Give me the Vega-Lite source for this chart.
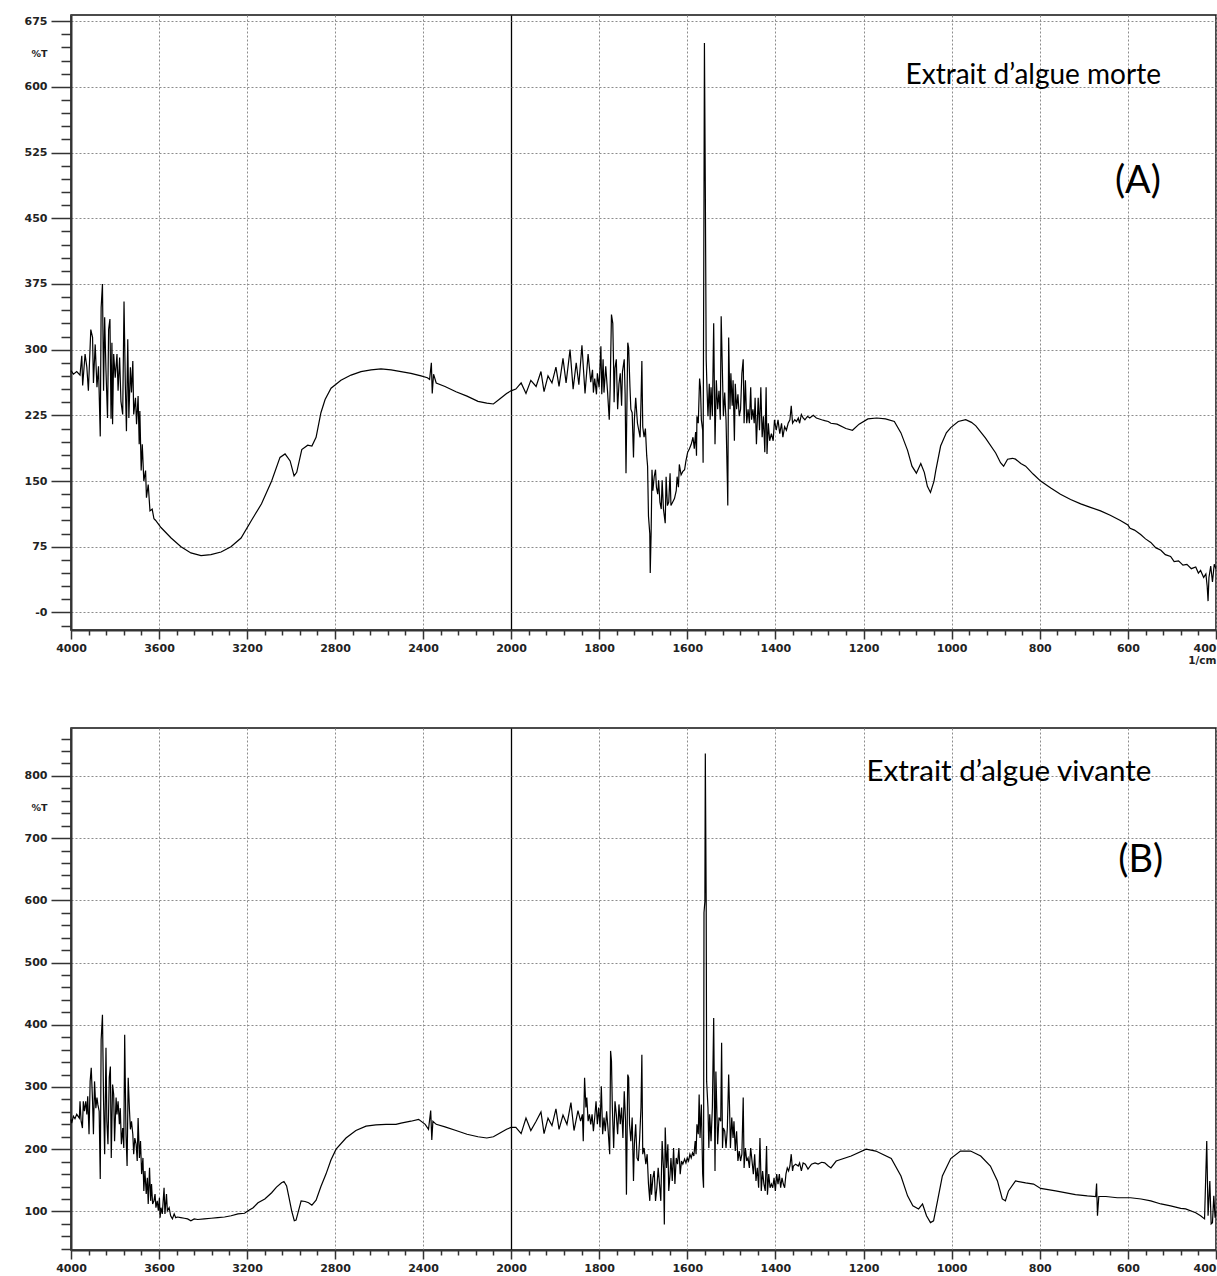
{
"$schema": "https://vega.github.io/schema/vega-lite/v6.json",
"padding": {"left": 0, "top": 14, "right": 2, "bottom": 0},
"background": "white",
"spacing": 60,
"config": {
  "view": {"stroke": "#111", "strokeWidth": 1.5},
  "axis": {"labelFont": "DejaVu Sans", "labelFontSize": 11, "labelFontWeight": "bold", "labelColor": "#222", "domainColor": "#333", "domainWidth": 2, "tickColor": "#333", "tickWidth": 1.5, "labelOverlap": false, "labelBound": false, "labelFlush": false, "titleFont": "DejaVu Sans", "titleColor": "#222", "tickCount": 1000}
},
"datasets": {
"A": [{"wn":4000,"t":276},{"wn":3989,"t":272},{"wn":3974,"t":275},{"wn":3959,"t":271},{"wn":3951,"t":293},{"wn":3947,"t":259},{"wn":3936,"t":295},{"wn":3928,"t":280},{"wn":3921,"t":253},{"wn":3910,"t":323},{"wn":3902,"t":314},{"wn":3898,"t":262},{"wn":3890,"t":306},{"wn":3882,"t":257},{"wn":3875,"t":281},{"wn":3867,"t":201},{"wn":3863,"t":348},{"wn":3857,"t":375},{"wn":3852,"t":253},{"wn":3847,"t":337},{"wn":3841,"t":276},{"wn":3834,"t":222},{"wn":3829,"t":323},{"wn":3823,"t":335},{"wn":3818,"t":221},{"wn":3814,"t":308},{"wn":3811,"t":215},{"wn":3806,"t":295},{"wn":3799,"t":268},{"wn":3791,"t":295},{"wn":3786,"t":253},{"wn":3779,"t":291},{"wn":3773,"t":241},{"wn":3765,"t":226},{"wn":3759,"t":355},{"wn":3753,"t":259},{"wn":3748,"t":207},{"wn":3742,"t":312},{"wn":3737,"t":222},{"wn":3730,"t":280},{"wn":3725,"t":251},{"wn":3719,"t":287},{"wn":3715,"t":226},{"wn":3707,"t":245},{"wn":3702,"t":215},{"wn":3695,"t":247},{"wn":3690,"t":192},{"wn":3687,"t":230},{"wn":3681,"t":162},{"wn":3676,"t":192},{"wn":3669,"t":150},{"wn":3661,"t":162},{"wn":3657,"t":131},{"wn":3649,"t":146},{"wn":3641,"t":116},{"wn":3631,"t":118},{"wn":3623,"t":107},{"wn":3615,"t":105},{"wn":3600,"t":100},{"wn":3591,"t":97},{"wn":3545,"t":85},{"wn":3500,"t":75},{"wn":3455,"t":68},{"wn":3409,"t":65},{"wn":3364,"t":66},{"wn":3318,"t":69},{"wn":3273,"t":75},{"wn":3227,"t":85},{"wn":3180,"t":105},{"wn":3134,"t":124},{"wn":3088,"t":150},{"wn":3050,"t":177},{"wn":3027,"t":181},{"wn":3004,"t":173},{"wn":2986,"t":156},{"wn":2974,"t":160},{"wn":2951,"t":186},{"wn":2924,"t":191},{"wn":2905,"t":190},{"wn":2886,"t":200},{"wn":2864,"t":228},{"wn":2845,"t":243},{"wn":2818,"t":256},{"wn":2773,"t":265},{"wn":2727,"t":271},{"wn":2682,"t":275},{"wn":2636,"t":277},{"wn":2591,"t":278},{"wn":2545,"t":277},{"wn":2500,"t":275},{"wn":2455,"t":273},{"wn":2409,"t":270},{"wn":2380,"t":268},{"wn":2370,"t":266},{"wn":2362,"t":285},{"wn":2358,"t":250},{"wn":2352,"t":272},{"wn":2340,"t":262},{"wn":2300,"t":258},{"wn":2250,"t":252},{"wn":2200,"t":247},{"wn":2150,"t":241},{"wn":2110,"t":239},{"wn":2080,"t":238},{"wn":2050,"t":244},{"wn":2020,"t":250},{"wn":2000,"t":253},{"wn":1989,"t":255},{"wn":1977,"t":262},{"wn":1966,"t":250},{"wn":1955,"t":265},{"wn":1943,"t":258},{"wn":1932,"t":275},{"wn":1925,"t":252},{"wn":1916,"t":270},{"wn":1907,"t":262},{"wn":1898,"t":280},{"wn":1891,"t":258},{"wn":1882,"t":290},{"wn":1875,"t":262},{"wn":1866,"t":300},{"wn":1859,"t":255},{"wn":1852,"t":285},{"wn":1846,"t":260},{"wn":1839,"t":305},{"wn":1832,"t":250},{"wn":1825,"t":295},{"wn":1819,"t":263},{"wn":1815,"t":277},{"wn":1813,"t":251},{"wn":1810,"t":267},{"wn":1806,"t":249},{"wn":1804,"t":273},{"wn":1800,"t":257},{"wn":1796,"t":304},{"wn":1794,"t":249},{"wn":1791,"t":289},{"wn":1789,"t":251},{"wn":1785,"t":281},{"wn":1781,"t":253},{"wn":1777,"t":220},{"wn":1775,"t":255},{"wn":1772,"t":340},{"wn":1769,"t":330},{"wn":1767,"t":277},{"wn":1766,"t":240},{"wn":1764,"t":279},{"wn":1761,"t":289},{"wn":1758,"t":232},{"wn":1755,"t":261},{"wn":1752,"t":273},{"wn":1749,"t":236},{"wn":1747,"t":275},{"wn":1743,"t":289},{"wn":1741,"t":249},{"wn":1739,"t":159},{"wn":1735,"t":308},{"wn":1733,"t":302},{"wn":1730,"t":257},{"wn":1728,"t":232},{"wn":1725,"t":228},{"wn":1722,"t":177},{"wn":1720,"t":220},{"wn":1717,"t":245},{"wn":1713,"t":216},{"wn":1710,"t":208},{"wn":1707,"t":200},{"wn":1705,"t":240},{"wn":1703,"t":287},{"wn":1701,"t":212},{"wn":1698,"t":200},{"wn":1695,"t":210},{"wn":1692,"t":179},{"wn":1690,"t":167},{"wn":1688,"t":110},{"wn":1685,"t":90},{"wn":1684,"t":45},{"wn":1682,"t":90},{"wn":1680,"t":163},{"wn":1678,"t":139},{"wn":1675,"t":155},{"wn":1672,"t":163},{"wn":1670,"t":143},{"wn":1667,"t":135},{"wn":1665,"t":151},{"wn":1662,"t":126},{"wn":1659,"t":118},{"wn":1657,"t":151},{"wn":1654,"t":118},{"wn":1650,"t":102},{"wn":1648,"t":155},{"wn":1645,"t":122},{"wn":1642,"t":126},{"wn":1639,"t":159},{"wn":1637,"t":122},{"wn":1633,"t":126},{"wn":1629,"t":130},{"wn":1625,"t":139},{"wn":1623,"t":155},{"wn":1620,"t":143},{"wn":1618,"t":169},{"wn":1614,"t":157},{"wn":1610,"t":161},{"wn":1606,"t":163},{"wn":1603,"t":173},{"wn":1599,"t":183},{"wn":1595,"t":187},{"wn":1591,"t":192},{"wn":1587,"t":200},{"wn":1584,"t":187},{"wn":1581,"t":206},{"wn":1579,"t":179},{"wn":1578,"t":224},{"wn":1575,"t":216},{"wn":1572,"t":267},{"wn":1570,"t":257},{"wn":1568,"t":220},{"wn":1565,"t":208},{"wn":1564,"t":171},{"wn":1562,"t":473},{"wn":1561,"t":650},{"wn":1559,"t":485},{"wn":1557,"t":289},{"wn":1555,"t":253},{"wn":1553,"t":224},{"wn":1550,"t":261},{"wn":1548,"t":220},{"wn":1546,"t":257},{"wn":1543,"t":224},{"wn":1540,"t":330},{"wn":1537,"t":192},{"wn":1534,"t":265},{"wn":1531,"t":232},{"wn":1528,"t":253},{"wn":1525,"t":220},{"wn":1523,"t":338},{"wn":1521,"t":293},{"wn":1518,"t":224},{"wn":1515,"t":251},{"wn":1512,"t":220},{"wn":1509,"t":151},{"wn":1508,"t":122},{"wn":1506,"t":314},{"wn":1503,"t":232},{"wn":1501,"t":273},{"wn":1498,"t":236},{"wn":1496,"t":265},{"wn":1493,"t":196},{"wn":1491,"t":261},{"wn":1488,"t":232},{"wn":1485,"t":249},{"wn":1482,"t":224},{"wn":1479,"t":232},{"wn":1476,"t":273},{"wn":1473,"t":289},{"wn":1471,"t":216},{"wn":1468,"t":265},{"wn":1465,"t":216},{"wn":1462,"t":232},{"wn":1459,"t":216},{"wn":1456,"t":257},{"wn":1454,"t":220},{"wn":1451,"t":232},{"wn":1448,"t":216},{"wn":1446,"t":245},{"wn":1443,"t":192},{"wn":1439,"t":245},{"wn":1436,"t":208},{"wn":1433,"t":257},{"wn":1430,"t":200},{"wn":1427,"t":224},{"wn":1424,"t":183},{"wn":1421,"t":257},{"wn":1419,"t":181},{"wn":1416,"t":216},{"wn":1413,"t":196},{"wn":1409,"t":204},{"wn":1405,"t":196},{"wn":1402,"t":220},{"wn":1398,"t":208},{"wn":1394,"t":220},{"wn":1390,"t":204},{"wn":1386,"t":216},{"wn":1383,"t":200},{"wn":1379,"t":212},{"wn":1375,"t":208},{"wn":1371,"t":216},{"wn":1367,"t":220},{"wn":1364,"t":236},{"wn":1361,"t":216},{"wn":1356,"t":220},{"wn":1352,"t":218},{"wn":1348,"t":222},{"wn":1345,"t":216},{"wn":1341,"t":226},{"wn":1337,"t":222},{"wn":1333,"t":220},{"wn":1327,"t":224},{"wn":1322,"t":222},{"wn":1314,"t":225},{"wn":1307,"t":222},{"wn":1295,"t":220},{"wn":1288,"t":219},{"wn":1280,"t":218},{"wn":1274,"t":216},{"wn":1260,"t":215},{"wn":1240,"t":210},{"wn":1225,"t":208},{"wn":1210,"t":215},{"wn":1190,"t":221},{"wn":1170,"t":222},{"wn":1150,"t":221},{"wn":1130,"t":218},{"wn":1115,"t":205},{"wn":1100,"t":185},{"wn":1090,"t":167},{"wn":1080,"t":159},{"wn":1070,"t":170},{"wn":1062,"t":160},{"wn":1055,"t":144},{"wn":1048,"t":137},{"wn":1040,"t":150},{"wn":1036,"t":162},{"wn":1025,"t":190},{"wn":1012,"t":205},{"wn":1002,"t":211},{"wn":985,"t":218},{"wn":968,"t":220},{"wn":955,"t":217},{"wn":945,"t":213},{"wn":923,"t":199},{"wn":900,"t":182},{"wn":889,"t":171},{"wn":882,"t":167},{"wn":873,"t":175},{"wn":862,"t":176},{"wn":855,"t":175},{"wn":843,"t":170},{"wn":832,"t":167},{"wn":815,"t":158},{"wn":798,"t":150},{"wn":775,"t":142},{"wn":753,"t":135},{"wn":730,"t":129},{"wn":707,"t":124},{"wn":685,"t":120},{"wn":662,"t":116},{"wn":640,"t":111},{"wn":617,"t":105},{"wn":600,"t":100},{"wn":595,"t":96},{"wn":585,"t":94},{"wn":571,"t":89},{"wn":560,"t":84},{"wn":548,"t":80},{"wn":537,"t":74},{"wn":525,"t":71},{"wn":515,"t":66},{"wn":503,"t":64},{"wn":495,"t":58},{"wn":485,"t":59},{"wn":475,"t":54},{"wn":466,"t":55},{"wn":456,"t":50},{"wn":446,"t":52},{"wn":440,"t":45},{"wn":435,"t":48},{"wn":428,"t":40},{"wn":423,"t":44},{"wn":420,"t":30},{"wn":418,"t":13},{"wn":416,"t":40},{"wn":412,"t":53},{"wn":408,"t":35},{"wn":404,"t":55},{"wn":400,"t":50}],
"B": [{"wn":4000,"t":248},{"wn":3997,"t":242},{"wn":3989,"t":253},{"wn":3982,"t":249},{"wn":3974,"t":256},{"wn":3962,"t":250},{"wn":3959,"t":277},{"wn":3954,"t":245},{"wn":3948,"t":234},{"wn":3944,"t":277},{"wn":3939,"t":261},{"wn":3933,"t":277},{"wn":3928,"t":256},{"wn":3924,"t":285},{"wn":3918,"t":224},{"wn":3913,"t":309},{"wn":3908,"t":331},{"wn":3902,"t":277},{"wn":3898,"t":224},{"wn":3893,"t":309},{"wn":3887,"t":266},{"wn":3882,"t":283},{"wn":3878,"t":272},{"wn":3872,"t":261},{"wn":3867,"t":152},{"wn":3863,"t":376},{"wn":3857,"t":416},{"wn":3852,"t":277},{"wn":3847,"t":192},{"wn":3841,"t":363},{"wn":3837,"t":245},{"wn":3832,"t":208},{"wn":3826,"t":315},{"wn":3821,"t":333},{"wn":3817,"t":186},{"wn":3811,"t":304},{"wn":3806,"t":288},{"wn":3802,"t":213},{"wn":3795,"t":283},{"wn":3791,"t":256},{"wn":3786,"t":277},{"wn":3780,"t":240},{"wn":3776,"t":266},{"wn":3771,"t":208},{"wn":3765,"t":234},{"wn":3760,"t":202},{"wn":3756,"t":384},{"wn":3750,"t":224},{"wn":3745,"t":173},{"wn":3740,"t":315},{"wn":3734,"t":261},{"wn":3730,"t":232},{"wn":3725,"t":245},{"wn":3719,"t":224},{"wn":3715,"t":192},{"wn":3710,"t":218},{"wn":3704,"t":208},{"wn":3699,"t":181},{"wn":3695,"t":250},{"wn":3689,"t":186},{"wn":3684,"t":213},{"wn":3679,"t":160},{"wn":3673,"t":186},{"wn":3669,"t":133},{"wn":3664,"t":165},{"wn":3658,"t":128},{"wn":3653,"t":154},{"wn":3649,"t":112},{"wn":3643,"t":170},{"wn":3638,"t":117},{"wn":3634,"t":144},{"wn":3629,"t":112},{"wn":3623,"t":117},{"wn":3618,"t":128},{"wn":3614,"t":106},{"wn":3608,"t":117},{"wn":3603,"t":101},{"wn":3598,"t":122},{"wn":3595,"t":90},{"wn":3591,"t":106},{"wn":3585,"t":96},{"wn":3577,"t":138},{"wn":3573,"t":96},{"wn":3566,"t":128},{"wn":3562,"t":101},{"wn":3554,"t":106},{"wn":3547,"t":93},{"wn":3539,"t":88},{"wn":3531,"t":96},{"wn":3524,"t":90},{"wn":3516,"t":91},{"wn":3501,"t":90},{"wn":3485,"t":89},{"wn":3470,"t":88},{"wn":3455,"t":85},{"wn":3440,"t":88},{"wn":3424,"t":87},{"wn":3394,"t":88},{"wn":3363,"t":89},{"wn":3333,"t":90},{"wn":3302,"t":91},{"wn":3272,"t":93},{"wn":3241,"t":96},{"wn":3211,"t":97},{"wn":3195,"t":101},{"wn":3172,"t":106},{"wn":3150,"t":114},{"wn":3119,"t":120},{"wn":3088,"t":130},{"wn":3066,"t":139},{"wn":3043,"t":146},{"wn":3032,"t":148},{"wn":3020,"t":141},{"wn":3009,"t":122},{"wn":2997,"t":101},{"wn":2985,"t":85},{"wn":2977,"t":86},{"wn":2966,"t":101},{"wn":2954,"t":117},{"wn":2936,"t":116},{"wn":2920,"t":114},{"wn":2905,"t":110},{"wn":2886,"t":118},{"wn":2864,"t":140},{"wn":2841,"t":160},{"wn":2818,"t":183},{"wn":2795,"t":200},{"wn":2750,"t":218},{"wn":2705,"t":230},{"wn":2659,"t":237},{"wn":2614,"t":239},{"wn":2568,"t":240},{"wn":2523,"t":240},{"wn":2500,"t":242},{"wn":2455,"t":245},{"wn":2420,"t":248},{"wn":2390,"t":240},{"wn":2375,"t":232},{"wn":2365,"t":262},{"wn":2360,"t":215},{"wn":2355,"t":245},{"wn":2340,"t":240},{"wn":2300,"t":236},{"wn":2250,"t":230},{"wn":2200,"t":224},{"wn":2150,"t":220},{"wn":2110,"t":218},{"wn":2080,"t":220},{"wn":2050,"t":226},{"wn":2020,"t":232},{"wn":2000,"t":235},{"wn":1989,"t":235},{"wn":1977,"t":225},{"wn":1966,"t":250},{"wn":1955,"t":230},{"wn":1943,"t":245},{"wn":1932,"t":260},{"wn":1925,"t":225},{"wn":1916,"t":250},{"wn":1907,"t":238},{"wn":1898,"t":265},{"wn":1891,"t":232},{"wn":1882,"t":255},{"wn":1873,"t":240},{"wn":1864,"t":275},{"wn":1857,"t":230},{"wn":1848,"t":262},{"wn":1842,"t":245},{"wn":1838,"t":256},{"wn":1836,"t":213},{"wn":1833,"t":315},{"wn":1830,"t":267},{"wn":1828,"t":283},{"wn":1825,"t":245},{"wn":1822,"t":256},{"wn":1819,"t":240},{"wn":1816,"t":256},{"wn":1813,"t":229},{"wn":1810,"t":251},{"wn":1807,"t":277},{"wn":1804,"t":240},{"wn":1801,"t":267},{"wn":1798,"t":235},{"wn":1795,"t":301},{"wn":1792,"t":224},{"wn":1789,"t":251},{"wn":1786,"t":229},{"wn":1783,"t":261},{"wn":1780,"t":235},{"wn":1776,"t":192},{"wn":1774,"t":358},{"wn":1772,"t":342},{"wn":1770,"t":267},{"wn":1767,"t":202},{"wn":1764,"t":277},{"wn":1761,"t":256},{"wn":1758,"t":224},{"wn":1755,"t":272},{"wn":1752,"t":240},{"wn":1749,"t":267},{"wn":1746,"t":218},{"wn":1743,"t":293},{"wn":1740,"t":245},{"wn":1738,"t":127},{"wn":1735,"t":320},{"wn":1733,"t":315},{"wn":1731,"t":240},{"wn":1728,"t":213},{"wn":1725,"t":251},{"wn":1722,"t":149},{"wn":1720,"t":208},{"wn":1717,"t":240},{"wn":1714,"t":186},{"wn":1711,"t":181},{"wn":1708,"t":218},{"wn":1705,"t":267},{"wn":1703,"t":352},{"wn":1701,"t":192},{"wn":1698,"t":202},{"wn":1694,"t":176},{"wn":1691,"t":192},{"wn":1688,"t":144},{"wn":1685,"t":117},{"wn":1683,"t":160},{"wn":1681,"t":127},{"wn":1678,"t":154},{"wn":1675,"t":165},{"wn":1672,"t":117},{"wn":1669,"t":138},{"wn":1666,"t":170},{"wn":1663,"t":144},{"wn":1660,"t":117},{"wn":1657,"t":213},{"wn":1654,"t":170},{"wn":1652,"t":79},{"wn":1650,"t":235},{"wn":1647,"t":170},{"wn":1644,"t":208},{"wn":1642,"t":133},{"wn":1639,"t":160},{"wn":1637,"t":186},{"wn":1634,"t":149},{"wn":1631,"t":202},{"wn":1628,"t":144},{"wn":1625,"t":186},{"wn":1622,"t":176},{"wn":1619,"t":202},{"wn":1616,"t":160},{"wn":1613,"t":181},{"wn":1610,"t":176},{"wn":1606,"t":184},{"wn":1603,"t":178},{"wn":1600,"t":186},{"wn":1597,"t":181},{"wn":1594,"t":192},{"wn":1591,"t":186},{"wn":1588,"t":194},{"wn":1585,"t":189},{"wn":1582,"t":213},{"wn":1580,"t":192},{"wn":1578,"t":240},{"wn":1575,"t":224},{"wn":1573,"t":288},{"wn":1571,"t":218},{"wn":1568,"t":272},{"wn":1565,"t":160},{"wn":1563,"t":138},{"wn":1562,"t":580},{"wn":1560,"t":598},{"wn":1559,"t":836},{"wn":1557,"t":593},{"wn":1556,"t":309},{"wn":1553,"t":267},{"wn":1551,"t":202},{"wn":1549,"t":256},{"wn":1546,"t":213},{"wn":1543,"t":267},{"wn":1540,"t":411},{"wn":1537,"t":165},{"wn":1535,"t":325},{"wn":1533,"t":267},{"wn":1531,"t":208},{"wn":1528,"t":251},{"wn":1524,"t":245},{"wn":1522,"t":371},{"wn":1520,"t":202},{"wn":1518,"t":234},{"wn":1515,"t":229},{"wn":1512,"t":202},{"wn":1509,"t":234},{"wn":1506,"t":320},{"wn":1504,"t":267},{"wn":1502,"t":202},{"wn":1499,"t":251},{"wn":1496,"t":218},{"wn":1494,"t":245},{"wn":1491,"t":197},{"wn":1488,"t":229},{"wn":1485,"t":181},{"wn":1482,"t":197},{"wn":1479,"t":181},{"wn":1476,"t":192},{"wn":1473,"t":283},{"wn":1471,"t":170},{"wn":1468,"t":202},{"wn":1465,"t":181},{"wn":1462,"t":186},{"wn":1459,"t":170},{"wn":1456,"t":202},{"wn":1453,"t":181},{"wn":1450,"t":160},{"wn":1447,"t":192},{"wn":1444,"t":149},{"wn":1441,"t":170},{"wn":1438,"t":138},{"wn":1435,"t":218},{"wn":1432,"t":133},{"wn":1429,"t":165},{"wn":1426,"t":144},{"wn":1423,"t":133},{"wn":1420,"t":205},{"wn":1418,"t":127},{"wn":1415,"t":160},{"wn":1412,"t":138},{"wn":1409,"t":144},{"wn":1406,"t":138},{"wn":1403,"t":154},{"wn":1400,"t":133},{"wn":1397,"t":160},{"wn":1394,"t":144},{"wn":1391,"t":160},{"wn":1388,"t":138},{"wn":1385,"t":154},{"wn":1382,"t":144},{"wn":1379,"t":138},{"wn":1376,"t":160},{"wn":1373,"t":170},{"wn":1370,"t":165},{"wn":1367,"t":173},{"wn":1364,"t":192},{"wn":1361,"t":165},{"wn":1359,"t":173},{"wn":1354,"t":176},{"wn":1348,"t":173},{"wn":1345,"t":178},{"wn":1341,"t":165},{"wn":1337,"t":178},{"wn":1332,"t":176},{"wn":1326,"t":168},{"wn":1318,"t":176},{"wn":1310,"t":178},{"wn":1303,"t":176},{"wn":1295,"t":179},{"wn":1288,"t":178},{"wn":1280,"t":173},{"wn":1274,"t":170},{"wn":1262,"t":181},{"wn":1228,"t":189},{"wn":1194,"t":200},{"wn":1172,"t":197},{"wn":1137,"t":185},{"wn":1115,"t":157},{"wn":1100,"t":125},{"wn":1088,"t":109},{"wn":1075,"t":104},{"wn":1066,"t":112},{"wn":1057,"t":93},{"wn":1048,"t":82},{"wn":1041,"t":85},{"wn":1032,"t":117},{"wn":1021,"t":157},{"wn":1002,"t":185},{"wn":980,"t":197},{"wn":957,"t":197},{"wn":934,"t":189},{"wn":912,"t":173},{"wn":896,"t":149},{"wn":885,"t":120},{"wn":878,"t":117},{"wn":871,"t":133},{"wn":855,"t":149},{"wn":832,"t":146},{"wn":814,"t":144},{"wn":798,"t":137},{"wn":764,"t":133},{"wn":719,"t":127},{"wn":692,"t":125},{"wn":673,"t":124},{"wn":671,"t":145},{"wn":669,"t":93},{"wn":666,"t":124},{"wn":650,"t":124},{"wn":624,"t":122},{"wn":594,"t":122},{"wn":570,"t":120},{"wn":548,"t":117},{"wn":525,"t":112},{"wn":503,"t":109},{"wn":480,"t":105},{"wn":469,"t":104},{"wn":446,"t":98},{"wn":435,"t":93},{"wn":426,"t":88},{"wn":421,"t":213},{"wn":418,"t":93},{"wn":414,"t":149},{"wn":411,"t":80},{"wn":408,"t":82},{"wn":405,"t":125},{"wn":402,"t":90},{"wn":400,"t":101}]
},
"vconcat": [
{
  "width": 1145, "height": 615,
  "layer": [
    {
      "data": {"name": "A"},
      "mark": {"type": "line", "color": "#000", "strokeWidth": 1.2},
      "encoding": {
        "x": {"field": "wn", "type": "quantitative",
          "scale": {"domain": [4000, 2000, 400], "range": [0, 440, 1145], "nice": false, "zero": false},
          "axis": {
            "values": [4000,3920,3840,3760,3680,3600,3520,3440,3360,3280,3200,3120,3040,2960,2880,2800,2720,2640,2560,2480,2400,2320,2240,2160,2080,2000,1960,1920,1880,1840,1800,1760,1720,1680,1640,1600,1560,1520,1480,1440,1400,1360,1320,1280,1240,1200,1160,1120,1080,1040,1000,960,920,880,840,800,760,720,680,640,600,560,520,480,440,400],
            "tickCount": 1000,
            "format": "d",
            "grid": true,
            "tickSize": {"condition": {"test": "((datum.value >= 2000 && datum.value % 400 !== 0) || (datum.value < 2000 && datum.value % 200 !== 0))", "value": 5}, "value": 9},
            "gridOpacity": {"condition": {"test": "((datum.value >= 2000 && datum.value % 400 !== 0) || (datum.value < 2000 && datum.value % 200 !== 0))", "value": 0}, "value": 1},
            "gridColor": {"condition": {"test": "(datum.value === 2000)", "value": "#000"}, "value": "#8c8c8c"},
            "gridDash": {"condition": {"test": "(datum.value === 2000)", "value": []}, "value": [2, 2]},
            "gridWidth": {"condition": {"test": "(datum.value === 2000)", "value": 1.3}, "value": 1},
            "labelExpr": "((datum.value >= 2000 && datum.value % 400 === 0) || (datum.value < 2000 && datum.value % 200 === 0)) ? datum.label : ''",
            "labelAlign": {"condition": {"test": "(datum.value === 400)", "value": "right"}, "value": "center"},
            "labelPadding": 3,
            "title": "1/cm", "titleAnchor": "end", "titleAlign": "right", "titleFontSize": 10.5, "titleFontWeight": "bold", "titlePadding": 2
          }},
        "y": {"field": "t", "type": "quantitative",
          "scale": {"domain": [-20, 682], "nice": false, "zero": false},
          "axis": {
            "values": [-15,0,15,30,45,60,75,90,105,120,135,150,165,180,195,210,225,240,255,270,285,300,315,330,345,360,375,390,405,420,435,450,465,480,495,510,525,540,555,570,585,600,615,630,645,660,675,637.5],
            "tickCount": 1000,
            "format": "d",
            "grid": true,
            "tickSize": {"condition": {"test": "(datum.value % 75 !== 0 && datum.value !== 637.5)", "value": 10}, "value": 20},
            "tickOpacity": {"condition": {"test": "(datum.value === 637.5)", "value": 0}, "value": 1},
            "gridOpacity": {"condition": {"test": "(datum.value % 75 !== 0)", "value": 0}, "value": 1},
            "gridColor": "#8c8c8c", "gridDash": [2, 2],
            "labelExpr": "datum.value === 637.5 ? '%T' : (datum.value % 75 === 0 ? (datum.value === 0 ? '-0' : datum.label) : '')",
            "labelFontSize": {"condition": {"test": "(datum.value === 637.5)", "value": 9.5}, "value": 11},
            "labelPadding": 4,
            "minExtent": 70, "maxExtent": 70,
            "title": null
          }}
      }
    },
    {
      "data": {"values": [{"wn": 525, "t": 612, "label": "Extrait d’algue morte"}]},
      "mark": {"type": "text", "font": "Lato", "fontSize": 28, "align": "right", "baseline": "middle", "color": "#000"},
      "encoding": {"x": {"field": "wn", "type": "quantitative"}, "y": {"field": "t", "type": "quantitative"}, "text": {"field": "label"}}
    },
    {
      "data": {"values": [{"wn": 525, "t": 491, "label": "(A)"}]},
      "mark": {"type": "text", "font": "Lato", "fontSize": 38, "align": "right", "baseline": "middle", "color": "#000"},
      "encoding": {"x": {"field": "wn", "type": "quantitative"}, "y": {"field": "t", "type": "quantitative"}, "text": {"field": "label"}}
    }
  ]
},
{
  "width": 1145, "height": 522,
  "layer": [
    {
      "data": {"name": "B"},
      "mark": {"type": "line", "color": "#000", "strokeWidth": 1.2},
      "encoding": {
        "x": {"field": "wn", "type": "quantitative",
          "scale": {"domain": [4000, 2000, 400], "range": [0, 440, 1145], "nice": false, "zero": false},
          "axis": {
            "values": [4000,3920,3840,3760,3680,3600,3520,3440,3360,3280,3200,3120,3040,2960,2880,2800,2720,2640,2560,2480,2400,2320,2240,2160,2080,2000,1960,1920,1880,1840,1800,1760,1720,1680,1640,1600,1560,1520,1480,1440,1400,1360,1320,1280,1240,1200,1160,1120,1080,1040,1000,960,920,880,840,800,760,720,680,640,600,560,520,480,440,400],
            "tickCount": 1000,
            "format": "d",
            "grid": true,
            "tickSize": {"condition": {"test": "((datum.value >= 2000 && datum.value % 400 !== 0) || (datum.value < 2000 && datum.value % 200 !== 0))", "value": 5}, "value": 9},
            "gridOpacity": {"condition": {"test": "((datum.value >= 2000 && datum.value % 400 !== 0) || (datum.value < 2000 && datum.value % 200 !== 0))", "value": 0}, "value": 1},
            "gridColor": {"condition": {"test": "(datum.value === 2000)", "value": "#000"}, "value": "#8c8c8c"},
            "gridDash": {"condition": {"test": "(datum.value === 2000)", "value": []}, "value": [2, 2]},
            "gridWidth": {"condition": {"test": "(datum.value === 2000)", "value": 1.3}, "value": 1},
            "labelExpr": "((datum.value >= 2000 && datum.value % 400 === 0) || (datum.value < 2000 && datum.value % 200 === 0)) ? datum.label : ''",
            "labelAlign": {"condition": {"test": "(datum.value === 400)", "value": "right"}, "value": "center"},
            "labelPadding": 3,
            "title": null
          }},
        "y": {"field": "t", "type": "quantitative",
          "scale": {"domain": [38, 877], "nice": false, "zero": false},
          "axis": {
            "values": [40,60,80,100,120,140,160,180,200,220,240,260,280,300,320,340,360,380,400,420,440,460,480,500,520,540,560,580,600,620,640,660,680,700,720,740,760,780,800,820,840,860,750],
            "tickCount": 1000,
            "format": "d",
            "grid": true,
            "tickSize": {"condition": {"test": "(datum.value % 100 !== 0 && datum.value !== 750)", "value": 10}, "value": 20},
            "tickOpacity": {"condition": {"test": "(datum.value === 750)", "value": 0}, "value": 1},
            "gridOpacity": {"condition": {"test": "(datum.value % 100 !== 0)", "value": 0}, "value": 1},
            "gridColor": "#8c8c8c", "gridDash": [2, 2],
            "labelExpr": "datum.value === 750 ? '%T' : (datum.value % 100 === 0 ? datum.label : '')",
            "labelFontSize": {"condition": {"test": "(datum.value === 750)", "value": 9.5}, "value": 11},
            "labelPadding": 4,
            "minExtent": 70, "maxExtent": 70,
            "title": null
          }}
      }
    },
    {
      "data": {"values": [{"wn": 547, "t": 806, "label": "Extrait d’algue vivante"}]},
      "mark": {"type": "text", "font": "Lato", "fontSize": 29.5, "align": "right", "baseline": "middle", "color": "#000"},
      "encoding": {"x": {"field": "wn", "type": "quantitative"}, "y": {"field": "t", "type": "quantitative"}, "text": {"field": "label"}}
    },
    {
      "data": {"values": [{"wn": 520, "t": 663, "label": "(B)"}]},
      "mark": {"type": "text", "font": "Lato", "fontSize": 38, "align": "right", "baseline": "middle", "color": "#000"},
      "encoding": {"x": {"field": "wn", "type": "quantitative"}, "y": {"field": "t", "type": "quantitative"}, "text": {"field": "label"}}
    }
  ]
}
]
}
